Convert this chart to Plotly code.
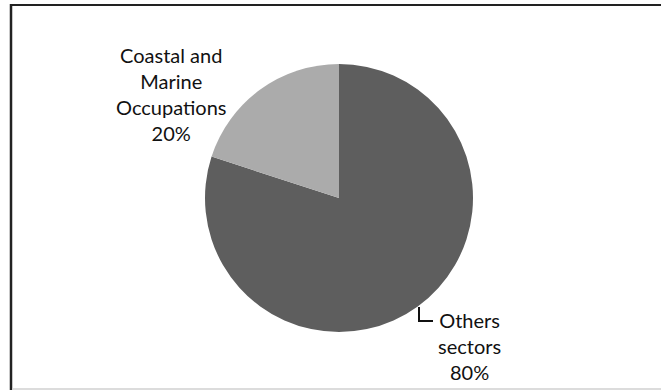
import plotly.graph_objects as go

labels = ["Others sectors", "Coastal and Marine Occupations"]
values = [80, 20]
label_text = ["Others<br>sectors<br>80%", "Coastal and<br>Marine<br>Occupations<br>20%"]
colors = ["#5e5e5e", "#ababab"]

W, H = 661, 390

def px(x):
    return x / W

def py(y):
    return 1 - y / H

cx, cy, r = 339, 198, 134

fig = go.Figure(go.Pie(
    labels=labels,
    values=values,
    sort=False,
    direction="clockwise",
    rotation=0,
    marker=dict(colors=colors, line=dict(width=0)),
    textinfo="none",
    hoverinfo="label+percent",
    showlegend=False,
    domain=dict(x=[px(cx - r), px(cx + r)], y=[py(cy + r), py(cy - r)]),
))

font = dict(family="Lato", size=20, color="#111111")
fig.add_annotation(x=px(469), y=py(346), xref="paper", yref="paper",
                   text=label_text[0], showarrow=False, font=font,
                   align="center", xanchor="center", yanchor="middle")
fig.add_annotation(x=px(171), y=py(94), xref="paper", yref="paper",
                   text=label_text[1], showarrow=False, font=font,
                   align="center", xanchor="center", yanchor="middle")

shapes = [
    dict(type="path", xref="paper", yref="paper",
         path=f"M {px(419)} {py(307)} L {px(419)} {py(321)} L {px(433)} {py(321)}",
         line=dict(color="#111111", width=2)),
    dict(type="line", xref="paper", yref="paper", x0=px(10), x1=1, y0=py(5), y1=py(5),
         line=dict(color="#222222", width=2)),
    dict(type="line", xref="paper", yref="paper", x0=px(11), x1=px(11), y0=py(4), y1=0,
         line=dict(color="#222222", width=2.5)),
    dict(type="line", xref="paper", yref="paper", x0=px(12), x1=1, y0=py(389), y1=py(389),
         line=dict(color="#d0d0d0", width=1.5)),
]
fig.update_layout(
    width=W, height=H,
    margin=dict(l=0, r=0, t=0, b=0),
    paper_bgcolor="white",
    plot_bgcolor="white",
    shapes=shapes,
)

fig.write_html("out.html",
               config={"displayModeBar": False},
               post_script="document.body.style.margin='0';document.body.style.overflow='hidden';")
